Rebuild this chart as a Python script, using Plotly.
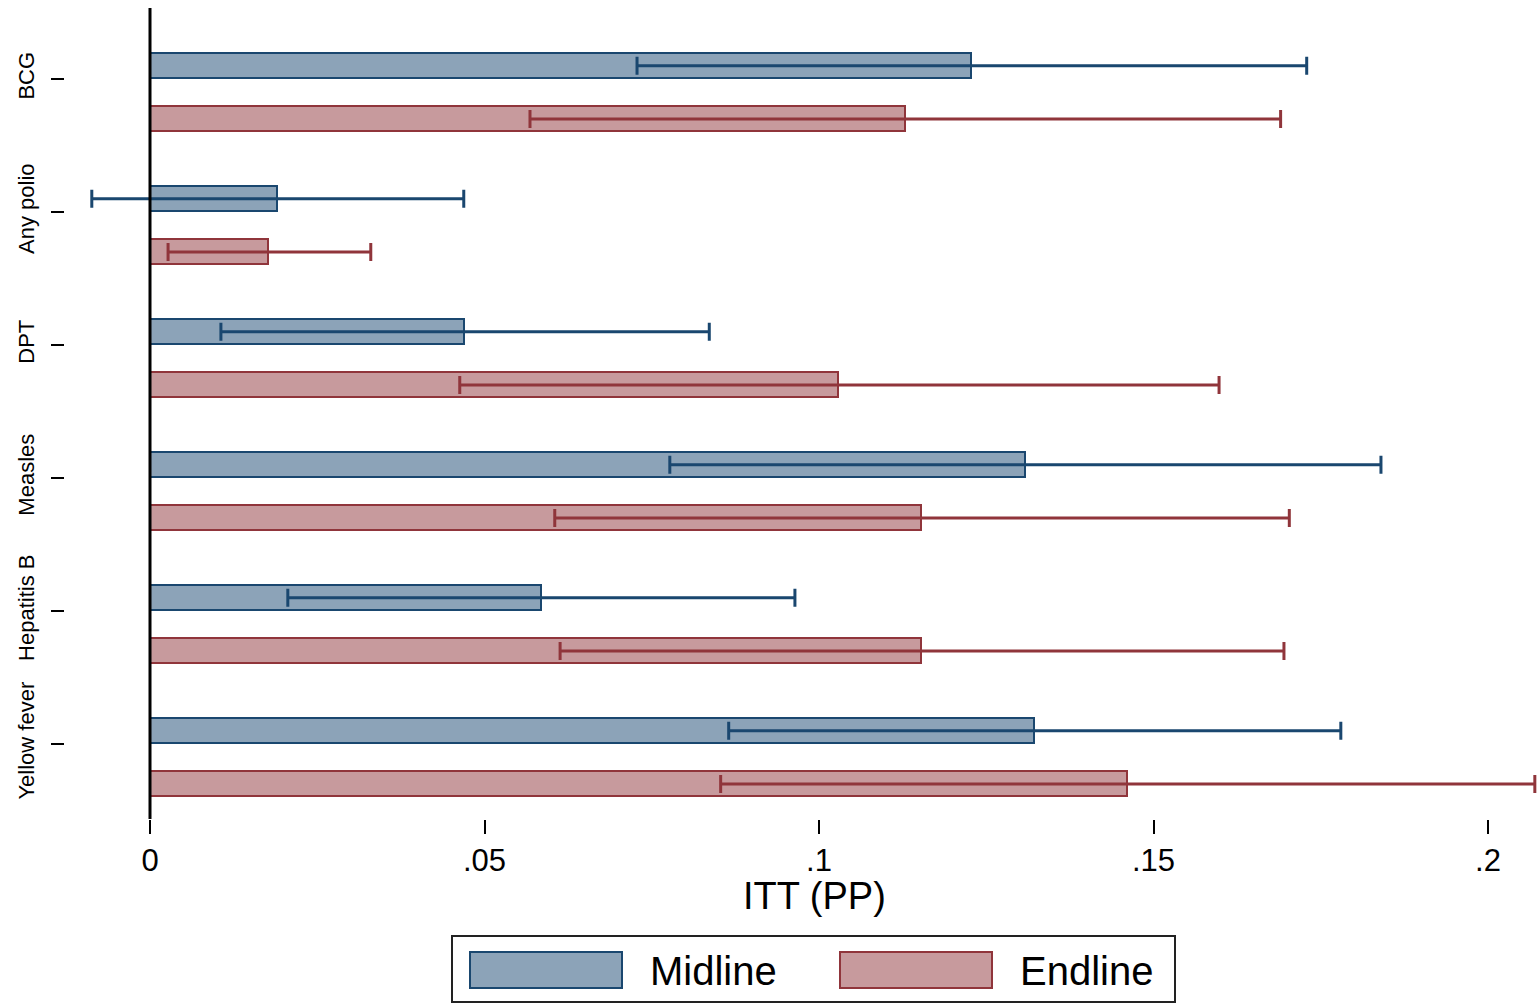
import plotly.graph_objects as go

# ---------------- data ----------------
categories = ["BCG", "Any polio", "DPT", "Measles", "Hepatitis B", "Yellow fever"]

midline_est = [0.1227, 0.0190, 0.0469, 0.1308, 0.0584, 0.1321]
midline_lo = [0.0728, -0.0087, 0.0106, 0.0777, 0.0206, 0.0865]
midline_hi = [0.1729, 0.0469, 0.0836, 0.1840, 0.0964, 0.1780]

endline_est = [0.1129, 0.0176, 0.1028, 0.1152, 0.1152, 0.1460]
endline_lo = [0.0568, 0.0027, 0.0463, 0.0605, 0.0613, 0.0853]
endline_hi = [0.1690, 0.0330, 0.1598, 0.1703, 0.1695, 0.2070]

x_tickvals = [0, 0.05, 0.1, 0.15, 0.2]
x_ticktext = ["0", ".05", ".1", ".15", ".2"]

# ---------------- style ----------------
NAVY = "#1a476f"
MAROON = "#90353b"
NAVY_FILL = "#8ca3b8"
MAROON_FILL = "#c79a9d"
FONT = "Liberation Sans, Arial, sans-serif"

W, H = 1537, 1004
L, R, T, B = 65, 0, 8, 185
PW, PH = W - L - R, H - T - B

MID_OFF, END_OFF, BAR_W = -0.10, 0.30, 0.188

ypos = list(range(len(categories)))

fig = go.Figure()


def add_series(est, lo, hi, off, line_col, fill_col, name):
    fig.add_trace(go.Bar(
        name=name,
        orientation="h",
        y=[p + off for p in ypos],
        x=est,
        base=0,
        width=BAR_W,
        marker=dict(color=fill_col, line=dict(color=line_col, width=2)),
        error_x=dict(
            type="data",
            symmetric=False,
            array=[h - e for h, e in zip(hi, est)],
            arrayminus=[e - l for e, l in zip(est, lo)],
            color=line_col,
            thickness=3,
            width=9,
        ),
        showlegend=False,
    ))


add_series(midline_est, midline_lo, midline_hi, MID_OFF, NAVY, NAVY_FILL, "Midline")
add_series(endline_est, endline_lo, endline_hi, END_OFF, MAROON, MAROON_FILL, "Endline")

# vertical zero line
fig.add_shape(type="line", xref="x", yref="paper", x0=0, x1=0, y0=0, y1=1,
              line=dict(color="black", width=3), layer="above")

x_lo = (L - 150) / 6690.0
x_hi = x_lo + PW / 6690.0
y_top = -(79 - T) / 133.0
y_bot = y_top + PH / 133.0

fig.update_layout(
    width=W, height=H,
    margin=dict(l=L, r=R, t=T, b=B),
    paper_bgcolor="white",
    plot_bgcolor="white",
    font=dict(family=FONT, color="black"),
    showlegend=False,
    bargap=0,
    xaxis=dict(
        range=[x_lo, x_hi],
        tickvals=x_tickvals,
        ticktext=x_ticktext,
        ticks="outside", ticklen=14, tickwidth=2, tickcolor="black",
        tickfont=dict(size=31, family=FONT, color="black"),
        ticklabelstandoff=0,
        showgrid=False, zeroline=False, showline=False,
    ),
    yaxis=dict(
        range=[y_bot, y_top],
        tickvals=ypos,
        ticktext=categories,
        tickangle=-90,
        ticks="outside", ticklen=13, tickwidth=2, tickcolor="black",
        tickfont=dict(size=22, family=FONT, color="black"),
        ticklabelstandoff=8,
        showgrid=False, zeroline=False, showline=False,
    ),
)


def px2paper(px, py):
    return (px - L) / PW, (T + PH - py) / PH


# axis title
tx, ty = px2paper(814, 896)
fig.add_annotation(x=tx, y=ty, xref="paper", yref="paper", text="ITT (PP)",
                   showarrow=False, font=dict(size=38, family=FONT, color="black"),
                   xanchor="center", yanchor="middle")

# manual legend
def rect(x0, y0, x1, y1, line_col, fill, lw):
    a0, b0 = px2paper(x0, y0)
    a1, b1 = px2paper(x1, y1)
    fig.add_shape(type="rect", xref="paper", yref="paper",
                  x0=a0, y0=b1, x1=a1, y1=b0,
                  line=dict(color=line_col, width=lw), fillcolor=fill)


rect(452, 936, 1175, 1002, "#222222", "white", 2)
rect(470, 952, 622, 988, NAVY, NAVY_FILL, 2)
rect(840, 952, 992, 988, MAROON, MAROON_FILL, 2)

for label, x in (("Midline", 648), ("Endline", 1018)):
    ax, ay = px2paper(x, 971)
    fig.add_annotation(x=ax, y=ay, xref="paper", yref="paper", text=label,
                       showarrow=False, font=dict(size=40, family=FONT, color="black"),
                       xanchor="left", yanchor="middle")

fig.write_html("out.html")
